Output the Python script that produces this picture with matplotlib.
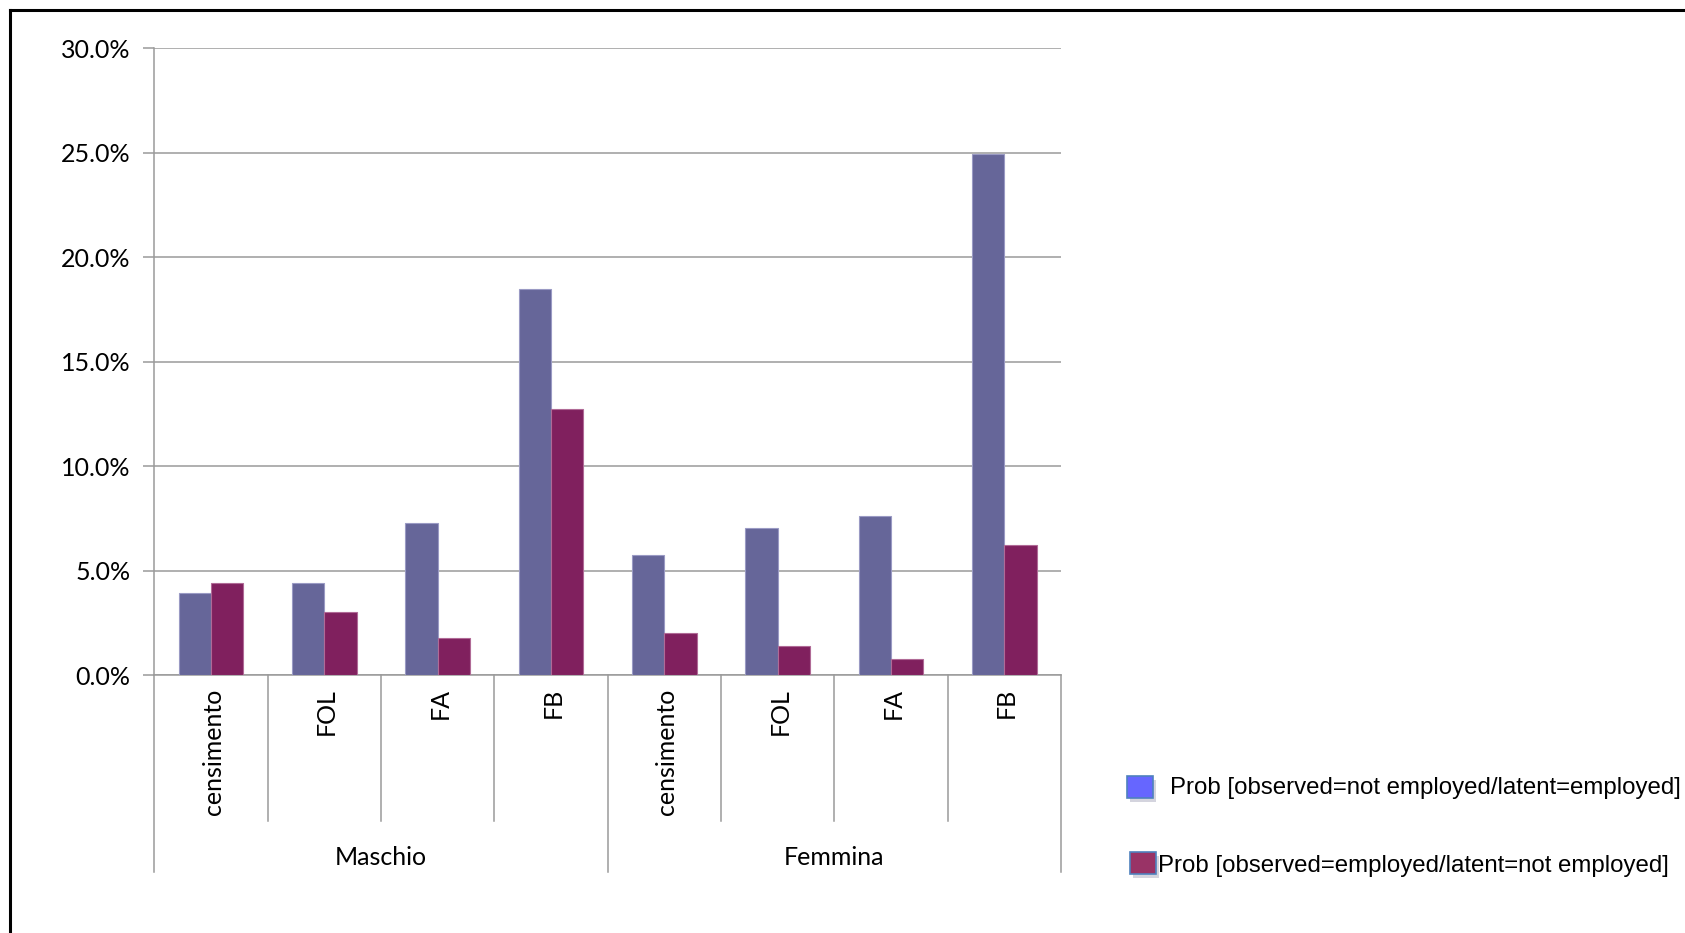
import numpy as np
import matplotlib.pyplot as plt
from matplotlib.ticker import PercentFormatter, MultipleLocator
from matplotlib.patches import Rectangle
from matplotlib.lines import Line2D
import matplotlib.transforms as mtransforms

groups = ['Maschio', 'Femmina']
sources = ['censimento', 'FOL', 'FA', 'FB']
categories = sources * len(groups)

# misclassification probabilities, in %
p_not_employed = [3.95, 4.40, 7.27, 18.50, 5.75, 7.02, 7.61, 24.93]
p_employed = [4.42, 3.02, 1.77, 12.73, 2.02, 1.41, 0.75, 6.22]

series_labels = ['Prob [observed=not employed/latent=employed]',
                 'Prob [observed=employed/latent=not employed]']
bar_colors = ['#666699', '#80205e']
edge_colors = ['#9a9ac4', '#b06a96']
legend_colors = ['#6666ff', '#993366']

tick_font = 'Lato'
grey = '#9a9a9a'

fig = plt.figure(figsize=(16.85, 9.33), dpi=100)
ax = fig.add_axes([0.0916, 0.2765, 0.5381, 0.6716])

n = len(categories)
x = np.arange(n) + 0.5
w = 0.285
ax.bar(x - w/2, np.array(p_not_employed)/100, w, color=bar_colors[0],
       edgecolor=edge_colors[0], linewidth=0.8, zorder=3)
ax.bar(x + w/2, np.array(p_employed)/100, w, color=bar_colors[1],
       edgecolor=edge_colors[1], linewidth=0.8, zorder=3)

ax.set_xlim(0, n)
ax.set_ylim(0, 0.30)
ax.yaxis.set_major_locator(MultipleLocator(0.05))
ax.yaxis.set_major_formatter(PercentFormatter(1.0, decimals=1))
ax.grid(axis='y', color=grey, linewidth=1.1, zorder=0)
ax.set_axisbelow(True)
ax.set_xticks([])
ax.tick_params(axis='y', length=8, width=1.1, color=grey, pad=9)
for lab in ax.get_yticklabels():
    lab.set_fontfamily(tick_font)
    lab.set_fontsize(18)
for s in ['top', 'right']:
    ax.spines[s].set_visible(False)
for s in ['left', 'bottom']:
    ax.spines[s].set_color(grey)
    ax.spines[s].set_linewidth(1.1)

# multi-level category axis below the plot
trans = mtransforms.blended_transform_factory(ax.transData, ax.transAxes)
for i in range(n + 1):
    y_end = -0.314 if i % len(sources) == 0 else -0.2325
    ax.add_line(Line2D([i, i], [0, y_end], transform=trans, color=grey,
                       linewidth=1.1, clip_on=False))
for xi, name in zip(x, categories):
    ax.text(xi + 0.02, -0.021, name, transform=trans, rotation=90,
            ha='center', va='top', fontsize=18, family=tick_font)
for g, name in enumerate(groups):
    ax.text(g * len(sources) + len(sources) / 2, -0.291, name, transform=trans,
            ha='center', va='center', fontsize=18, family=tick_font)

# legend drawn by hand
W, H = 1685, 933
def px(xp, yp):
    return xp / W, 1 - yp / H

legend_rows = [(1127, 776, 1170, 788), (1130, 852, 1158, 866)]
pw, ph = 26, 22
for (bx, by, tx, ty), col, lab in zip(legend_rows, legend_colors, series_labels):
    sx, sy = px(bx + 3, by + ph + 4)
    fig.patches.append(Rectangle((sx, sy), pw / W, ph / H, transform=fig.transFigure,
                                 facecolor='#b8b8c8', edgecolor='none', alpha=0.6))
    rx, ry = px(bx, by + ph)
    fig.patches.append(Rectangle((rx, ry), pw / W, ph / H, transform=fig.transFigure,
                                 facecolor=col, edgecolor='#4f81bd', linewidth=1.2))
    fx, fy = px(tx, ty)
    fig.text(fx, fy, lab, ha='left', va='center', fontsize=17.3,
             family='Liberation Sans')

# outer frame (left and top edges)
fx0, fy0 = px(9.5, 9.5)
fig.add_artist(Line2D([fx0, fx0], [0, fy0], transform=fig.transFigure,
                      color='black', linewidth=2.2))
fig.add_artist(Line2D([fx0, 1], [fy0, fy0], transform=fig.transFigure,
                      color='black', linewidth=2.2))

fig.savefig('out.png', dpi=100)
